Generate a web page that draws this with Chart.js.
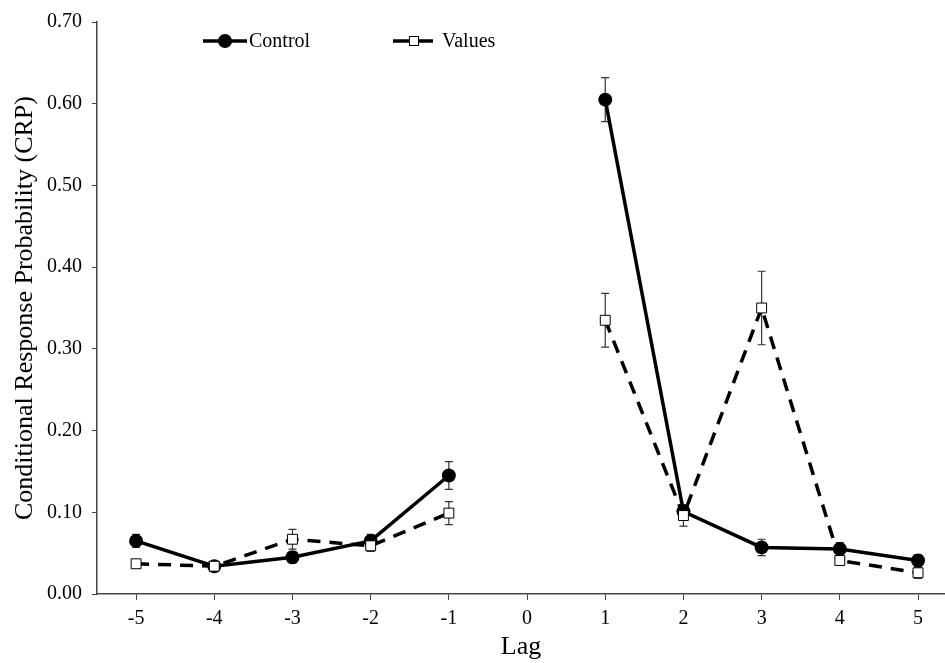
<!DOCTYPE html>
<html>
<head>
<meta charset="utf-8">
<script src="https://cdn.jsdelivr.net/npm/chart.js@4"></script>
<style>
  html, body { margin: 0; padding: 0; background: #fff; }
  #wrap { width: 945px; height: 663px; }
</style>
</head>
<body>
<div id="wrap"><canvas id="crp"></canvas></div>
<script>
const lags = [-5, -4, -3, -2, -1, 0, 1, 2, 3, 4, 5];

const controlCRP = [0.065, 0.034, 0.045, 0.065, 0.145, null, 0.605, 0.101, 0.057, 0.055, 0.041];
const controlSE = [0.008, 0.004, 0.007, 0.008, 0.017, null, 0.027, 0.008, 0.010, 0.008, 0.007];

const valuesCRP = [0.037, 0.034, 0.067, 0.059, 0.099, null, 0.335, 0.096, 0.350, 0.041, 0.026];
const valuesSE = [0.004, 0.004, 0.012, 0.007, 0.014, null, 0.033, 0.013, 0.045, 0.006, 0.007];

const yTicks = [0, 0.1, 0.2, 0.3, 0.4, 0.5, 0.6, 0.7];

const serif = "'Liberation Serif', 'Times New Roman', serif";
const axisColor = "#444";

const toPoints = (vals) => lags.map((lag, i) => ({ x: lag, y: vals[i] }));

// error bars go under the markers
const errorBars = {
  id: "errorBars",
  beforeDatasetsDraw(chart) {
    const ctx = chart.ctx;
    const xs = chart.scales.x;
    const ys = chart.scales.y;
    ctx.save();
    ctx.strokeStyle = "#333";
    ctx.lineWidth = 1.2;
    chart.data.datasets.forEach((ds) => {
      ds.se.forEach((se, i) => {
        const v = ds.data[i].y;
        if (v == null || se == null) return;
        const px = xs.getPixelForValue(lags[i]);
        const top = ys.getPixelForValue(v + se);
        const bot = ys.getPixelForValue(v - se);
        ctx.beginPath();
        ctx.moveTo(px, top); ctx.lineTo(px, bot);
        ctx.moveTo(px - 4, top); ctx.lineTo(px + 4, top);
        ctx.moveTo(px - 4, bot); ctx.lineTo(px + 4, bot);
        ctx.stroke();
      });
    });
    ctx.restore();
  },
};

// legend drawn by hand: line - marker - line, then the label
const sketchLegend = {
  id: "sketchLegend",
  afterDraw(chart) {
    const ctx = chart.ctx;
    const y = 41;
    ctx.save();
    ctx.lineWidth = 3.5;
    ctx.strokeStyle = "#000";

    ctx.beginPath();
    ctx.moveTo(203, y); ctx.lineTo(247, y);
    ctx.stroke();
    ctx.beginPath();
    ctx.arc(225, y, 7, 0, Math.PI * 2);
    ctx.fillStyle = "#000";
    ctx.fill();

    ctx.beginPath();
    ctx.moveTo(393, y); ctx.lineTo(433, y);
    ctx.stroke();
    ctx.lineWidth = 1;
    ctx.fillStyle = "#fff";
    ctx.fillRect(409, y - 5, 10, 10);
    ctx.strokeRect(409.5, y - 4.5, 9, 9);

    ctx.fillStyle = "#000";
    ctx.font = "20px " + serif;
    ctx.textBaseline = "middle";
    ctx.fillText("Control", 249, y + 1);
    ctx.fillText("Values", 442, y + 1);
    ctx.restore();
  },
};

new Chart(document.getElementById("crp"), {
  type: "line",
  data: {
    datasets: [
      {
        label: "Control",
        data: toPoints(controlCRP),
        se: controlSE,
        borderColor: "#000",
        borderWidth: 3.5,
        pointStyle: "circle",
        pointRadius: 7,
        pointBackgroundColor: "#000",
        pointBorderColor: "#000",
        pointBorderWidth: 0,
        spanGaps: false,
        order: 2,
      },
      {
        label: "Values",
        data: toPoints(valuesCRP),
        se: valuesSE,
        borderColor: "#000",
        borderWidth: 3.5,
        borderDash: [13, 9],
        pointStyle: "rect",
        pointRadius: 7,
        pointBackgroundColor: "#fff",
        pointBorderColor: "#000",
        pointBorderWidth: 1,
        spanGaps: false,
        order: 1,
      },
    ],
  },
  options: {
    responsive: true,
    maintainAspectRatio: false,
    animation: false,
    layout: { autoPadding: false, padding: { top: 19, right: 0, bottom: 0, left: 0 } },
    plugins: {
      legend: { display: false },
      tooltip: { enabled: false },
    },
    scales: {
      x: {
        type: "linear",
        min: -5.5,
        max: 5.345,
        afterBuildTicks: (scale) => {
          scale.ticks = lags.map((v) => ({ value: v }));
        },
        afterFit: (scale) => {
          scale.height = 69;
          scale.paddingLeft = 0;
          scale.paddingRight = 0;
        },
        border: { display: true, color: axisColor, width: 1.5 },
        grid: { drawOnChartArea: false, drawTicks: true, tickLength: 6, color: axisColor },
        ticks: {
          color: "#000",
          padding: 7,
          font: { family: serif, size: 20 },
          maxRotation: 0,
          autoSkip: false,
        },
        title: {
          display: true,
          text: "Lag",
          color: "#000",
          font: { family: serif, size: 26 },
          padding: { top: 0, bottom: 0 },
        },
      },
      y: {
        min: 0,
        max: 0.7,
        afterBuildTicks: (scale) => {
          scale.ticks = yTicks.map((v) => ({ value: v }));
        },
        afterFit: (scale) => { scale.width = 97; },
        border: { display: true, color: axisColor, width: 1.5 },
        grid: { drawOnChartArea: false, drawTicks: true, tickLength: 5, color: axisColor },
        ticks: {
          color: "#000",
          padding: 10,
          font: { family: serif, size: 20 },
          callback: (v) => Number(v).toFixed(2),
        },
        title: {
          display: true,
          text: "Conditional Response Probability (CRP)",
          color: "#000",
          font: { family: serif, size: 26 },
          padding: { top: 10, bottom: 0 },
        },
      },
    },
  },
  plugins: [errorBars, sketchLegend],
});
</script>
</body>
</html>
